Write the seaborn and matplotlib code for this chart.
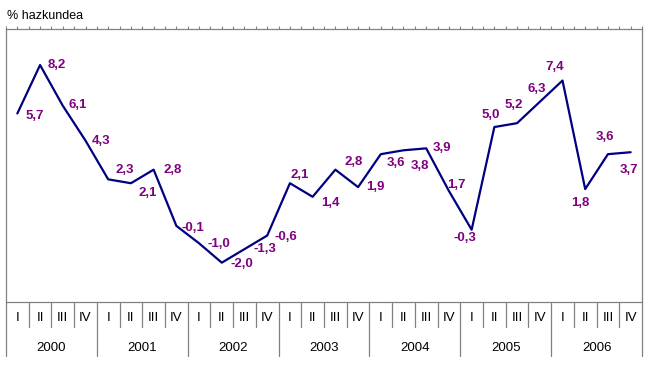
import numpy as np
import pandas as pd
import matplotlib
matplotlib.use("Agg")
import matplotlib.pyplot as plt
import seaborn as sns

# data
years = ["2000", "2001", "2002", "2003", "2004", "2005", "2006"]
quarters = ["I", "II", "III", "IV"]
growth = [5.7, 8.2, 6.1, 4.3,
          2.3, 2.1, 2.8, -0.1,
          -1.0, -2.0, -1.3, -0.6,
          2.1, 1.4, 2.8, 1.9,
          3.6, 3.8, 3.9, 1.7,
          -0.3, 5.0, 5.2, 6.3,
          7.4, 1.8, 3.6, 3.7]

# label offsets in pixels (dx, dy up)
label_offsets = [(17, -3), (17, 0), (15, 1), (16, 0),
                 (17, 9), (17, -10), (19, 0), (17, -2),
                 (20, -1), (20, -1), (20, 0), (19, -1),
                 (10, 8), (18, -6), (18, 8), (17, 0),
                 (15, -9), (16, -16), (16, 0), (7, 6),
                 (-7, -8), (-4, 12), (-3, 18), (-3, 13),
                 (-8, 14), (-5, -14), (-3, 17), (-2, -18)]

df = pd.DataFrame({"idx": np.arange(len(growth)), "growth": growth})

sns.set_style("white")
plt.rcParams["font.family"] = ["Liberation Sans", "DejaVu Sans"]

W, H = 649, 365
fig = plt.figure(figsize=(W / 100, H / 100), dpi=100)
ax = fig.add_axes([6 / W, 1 - 302 / H, 636 / W, 273 / H])

sns.lineplot(data=df, x="idx", y="growth", ax=ax, color="#000080",
             linewidth=1.6, legend=False)

for i, v in enumerate(growth):
    dx, dy = label_offsets[i]
    ax.annotate(f"{v:.1f}".replace(".", ","), (i, v), xytext=(dx, dy),
                textcoords="offset pixels", ha="center", va="center",
                color="#800080", fontsize=9.5, fontweight="bold")

ax.set_xlim(-0.5, len(growth) - 0.5)
ax.set_ylim(-4.03, 10.06)
ax.set_xlabel("")
ax.set_ylabel("")
ax.set_yticks([])
ax.set_xticks(np.arange(-0.5, len(growth), 0.5))
ax.tick_params(axis="x", top=True, bottom=False, labelbottom=False,
               labeltop=False, direction="out", length=2.5, width=0.8,
               color="#808080")
for s in ax.spines.values():
    s.set_visible(True)
    s.set_color("#808080")
    s.set_linewidth(0.9)

# category band
tr = ax.get_xaxis_transform()
q_sep = -0.0905
y_sep = -0.198
for k in range(len(growth) + 1):
    x = k - 0.5
    bottom = y_sep if k % 4 == 0 else q_sep
    ax.plot([x, x], [0, bottom], transform=tr, color="#808080",
            linewidth=0.9, clip_on=False)
for k in range(len(growth)):
    ax.text(k, -0.0597, quarters[k % 4], transform=tr, ha="center",
            va="center", fontsize=9.5, color="black")
for j, yr in enumerate(years):
    ax.text(j * 4 + 1.5, -0.1696, yr, transform=tr, ha="center",
            va="center", fontsize=9.5, color="black")

fig.text(7 / W, 1 - 16 / H, "% hazkundea", ha="left", va="center",
         fontsize=9, color="black")

fig.savefig("out.png", dpi=100)
